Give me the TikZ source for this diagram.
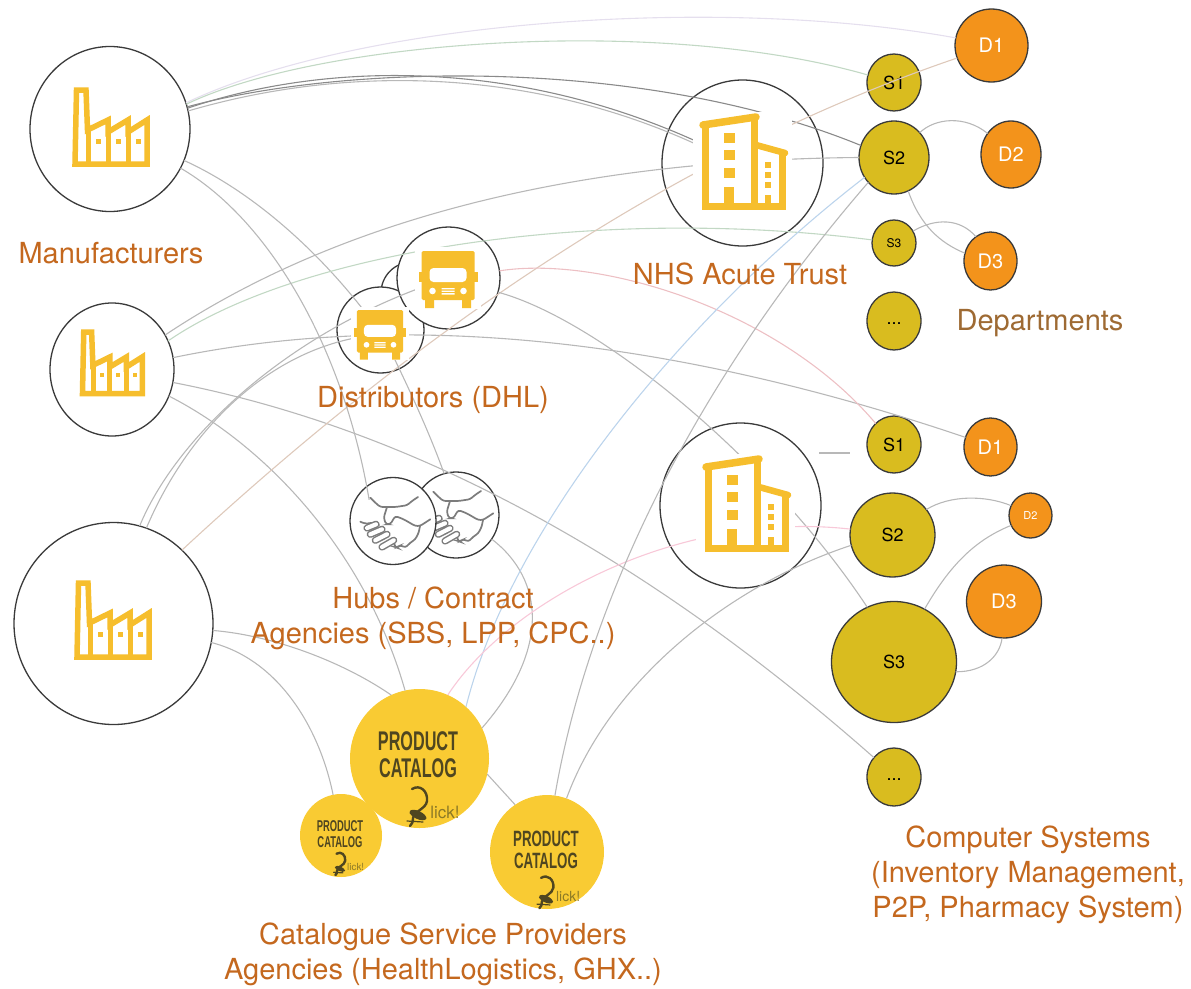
\documentclass[tikz,border=0pt]{standalone}
\usepackage{fontspec}
\usetikzlibrary{shapes.geometric}
\setmainfont{TeX Gyre Heros}
\newfontfamily\catfont[FakeStretch=0.6]{Liberation Sans}
\definecolor{ringline}{HTML}{3A3A3A}
\definecolor{iconyellow}{HTML}{F6BE2D}
\definecolor{sysyellow}{HTML}{D9BC1F}
\definecolor{deptorange}{HTML}{F3931B}
\definecolor{catyellow}{HTML}{F9CB33}
\definecolor{catdark}{HTML}{4F4620}
\definecolor{catfaint}{HTML}{8C7926}
\definecolor{labelbrown}{HTML}{C4681E}
\definecolor{deptbrown}{HTML}{9E6A33}
\definecolor{handgrey}{HTML}{7C7C7C}
\definecolor{linkgrey}{HTML}{B8B8B8}
\definecolor{linkdark}{HTML}{8A8A8A}
\definecolor{linkgreen}{HTML}{C2D8C4}
\definecolor{linklilac}{HTML}{E5DFEE}
\definecolor{linktan}{HTML}{DEC9BB}
\definecolor{linkrose}{HTML}{EDC0C4}
\definecolor{linkpink}{HTML}{F8C8D8}
\definecolor{linkblue}{HTML}{BCD4EC}
\tikzset{
  dims/.style 2 args={minimum width=#1pt,minimum height=#2pt},
  disc/.style={ellipse,inner sep=0pt,outer sep=0pt},
  ring/.style={disc,draw=ringline,fill=white,line width=1.3pt},
  sysnode/.style={disc,draw=ringline,fill=sysyellow,line width=1.3pt,font=\fontsize{18}{18}\selectfont},
  deptnode/.style={disc,draw=ringline,fill=deptorange,line width=1.3pt,text=white,font=\fontsize{20}{20}\selectfont},
  catnode/.style={disc,fill=catyellow},
  link/.style={draw=linkgrey,line width=1.1pt},
  tag/.style={text=labelbrown,align=center,font=\fontsize{29}{35}\selectfont},
  factory/.pic={
    \draw[iconyellow,line width=5.5pt,line join=miter] (3,-3) -- (4.5,-77) -- (14,-77) -- (15.5,-37) -- (36,-47) -- (36,-35) -- (56,-47) -- (56,-35) -- (75,-47) -- (75,-3) -- cycle;
    \draw[iconyellow,line width=5pt] (16,-37) -- (16,-3) (36,-35) -- (36,-3) (56,-35) -- (56,-3);
    \foreach \wx in {26,46,66} \fill[iconyellow] (\wx-2.5,-28) rectangle (\wx+2.5,-23);
  },
  building/.pic={
    \fill[white] (-7,-98) rectangle (92,5);
    \draw[iconyellow,line width=7.5pt,line cap=round] (3,-85) -- (56,-93);
    \draw[iconyellow,line width=6.5pt,line cap=round] (56,-65) -- (85,-57);
    \draw[iconyellow,line width=7pt] (5,-85) -- (5,-3.3) -- (82,-3.3) -- (82,-57);
    \draw[iconyellow,line width=7pt] (54.5,-90) -- (54.5,-3.3);
    \foreach \wy in {-72,-55,-37} \fill[iconyellow] (23.5,\wy-5) rectangle (34.5,\wy+5);
    \foreach \wy in {-45,-35,-25} \fill[iconyellow] (65,\wy-3) rectangle (71,\wy+3);
    \fill[iconyellow] (24,-23) rectangle (34,-2);
    \fill[iconyellow] (65,-15) rectangle (71,-2);
  },
  truck/.pic={
    \fill[white] (-33,-4) rectangle (33,58);
    \fill[iconyellow,rounded corners=1.5pt] (-26.5,0) rectangle (26.5,49);
    \fill[iconyellow] (-29.5,21) rectangle (29.5,31);
    \fill[iconyellow] (-23,48) rectangle (-14,57) (14,48) rectangle (23,57);
    \fill[white,rounded corners=4pt] (-18.5,17) rectangle (18.5,31);
    \fill[white] (-15.5,40) circle (3.3) (15.5,40) circle (3.3);
    \fill[white] (-6.5,37) rectangle (6.5,38.3) (-6.5,39.6) rectangle (6.5,40.9) (-6.5,42.2) rectangle (6.5,43.5);
  },
  handshake/.pic={
    \fill[white] (-33,-21) rectangle (33,21);
    \begin{scope}[handgrey,line width=1.7pt,rounded corners=2.5pt,line cap=round]
      \draw (-22.7,-23.3) -- (-17.7,-18.3) -- (-12.7,-14) -- (2.3,-14) -- (14,-15.7) -- (19,-20) -- (25,-24);
      \draw (-6,-14) -- (-9.3,-3.3) -- (-7,3.3) -- (-2.7,3.3) -- (2.3,-5) -- (10.7,-1.7) -- (22.3,5) -- (27,5) -- (37.3,-1.7);
      \draw (-32.7,0.7) -- (-27.7,2.7) -- (-20,1.7) -- (-14,4);
      \draw (0.7,19.3) -- (2,26) -- (4,26.7) -- (7.3,24) -- (12.3,26.7) -- (17.3,21.7) -- (22.3,18.3) -- (25.7,11.7) -- (27,5);
      \foreach \fa/\fb/\fc/\fd in {-26/7/-17/3.3,-22.7/13.3/-11/8.3,-17.7/19.3/-6/13.3,-11/26/0.7/19.3}
        \draw[double=white,double distance=4.2pt,line width=1.5pt] (\fa,\fb) -- (\fc,\fd);
    \end{scope}
  },
  catmark/.pic={
    \node[transform shape,align=center,text=catdark,font=\catfont\bfseries\fontsize{27}{27}\selectfont] (cattext) at (0,0) {PRODUCT\\CATALOG};
    \node[transform shape,text=catfaint,font=\fontsize{17}{17}\selectfont] (catclick) at (27,57) {lick!};
    \draw[catdark,line width=2.4pt,line cap=round] (-6,34) .. controls (2,29) and (10,36) .. (9,46) .. controls (8,54) and (-4,56) .. (-5,63) .. controls (-5,67) and (-6,69) .. (-8,71);
    \fill[catdark,rotate around={-25:(0,60)}] (0,60) ellipse (9 and 4);
    \draw[catdark,line width=1.2pt,line cap=round] (-8,58) -- (8,63) (-11,66) -- (5,67);
  }
}
\begin{document}
\begin{tikzpicture}[x=1pt,y=-1pt]
      \useasboundingbox (0,0) rectangle (1191,988);
      \node[ring,dims={160}{165}] (M1) at (110,129) {};
      \node[ring,dims={124}{133}] (M2) at (112,369.5) {};
      \node[ring,dims={199}{202}] (M3) at (113.5,623.5) {};
      \node[ring,dims={62}{62}] (T3) at (412,293) {};
      \node[ring,dims={87}{86}] (T2) at (380.5,330) {};
      \node[ring,dims={103}{102}] (T1) at (448.5,278) {};
      \node[ring,dims={86}{86}] (H2) at (456,515) {};
      \node[ring,dims={161}{166}] (NA) at (742.5,163) {};
      \node[ring,dims={161}{165}] (NB) at (740.5,505.5) {};
      \node[catnode,dims={139}{139}] (C1) at (419.5,758.5) {};
      \node[catnode,dims={82}{83}] (C2) at (341,835.5) {};
      \node[catnode,dims={114}{114}] (C3) at (547,852) {};
      \node[sysnode,dims={54}{57}] (S1) at (894,82.5) {S1};
      \node[sysnode,dims={70}{73}] (S2) at (894,157.5) {S2};
      \node[sysnode,dims={44}{46},font=\fontsize{12}{12}\selectfont] (S3) at (894,243) {S3};
      \node[sysnode,dims={54}{58}] (Sdots) at (894,321) {\strut...};
      \node[deptnode,dims={73}{73}] (D1) at (991.5,45.5) {D1};
      \node[deptnode,dims={60}{67}] (D2) at (1011,154.5) {D2};
      \node[deptnode,dims={53}{58}] (D3) at (990.5,261) {D3};
      \node[sysnode,dims={54}{57}] (Sb1) at (894,444.5) {S1};
      \node[sysnode,dims={85}{84}] (Sb2) at (892.5,535) {S2};
      \node[sysnode,dims={125}{121}] (Sb3) at (894,662) {S3};
      \node[sysnode,dims={54}{58}] (Sbdots) at (894,777) {\strut...};
      \node[deptnode,dims={53}{58}] (Db1) at (990.5,447) {D1};
      \node[deptnode,dims={43}{45},font=\fontsize{11}{11}\selectfont] (Db2) at (1030.5,515.5) {D2};
      \node[deptnode,dims={75}{73}] (Db3) at (1004,601.5) {D3};
      \coordinate (naA) at (700,143);
      \coordinate (naB) at (700,146);
      \coordinate (tA) at (420,288);
      \coordinate (tB) at (375,335);
      \coordinate (tC) at (365,312);
      \coordinate (hA) at (370,505);
      \coordinate (sbA) at (819,453);
      \coordinate (sbB) at (850,453);
      \draw[link,draw=linklilac] (M1.19) .. controls (360,20) and (720,-5) .. (D1.168);
      \draw[link,draw=linkgreen] (M1.18) .. controls (320,40) and (660,15) .. (S1.164);
      \draw[link,draw=linkdark] (M1.16) .. controls (340,65) and (640,55) .. (S2.160);
      \draw[link,draw=linkdark] (M1.15) .. controls (330,60) and (520,60) .. (naA);
      \draw[link] (M1.13) .. controls (345,65) and (530,67) .. (naB);
      \draw[link] (M1.-23) .. controls (260,195) and (325,260) .. (tC);
      \draw[link] (M2.33) .. controls (330,225) and (560,160) .. (S2.west);
      \draw[link,draw=linkgreen] (M2.27) .. controls (300,250) and (600,205) .. (S3.172);
      \draw[link] (M2.11) .. controls (330,325) and (590,310) .. (Db1.159);
      \draw[link] (M2.-12) .. controls (408,428) and (641,552) .. (Sbdots.136);
      \draw[link] (M2.-25) .. controls (265,445) and (365,550) .. (C1.102);
      \draw[link] (M3.75) .. controls (175,440) and (280,340) .. (tA);
      \draw[link] (M3.71) .. controls (190,425) and (275,345) .. (tB);
      \draw[link,draw=linktan] (M3.47) .. controls (442,309) and (698,146) .. (D1.200);
      \draw[link] (M3.-4) .. controls (270,635) and (340,660) .. (C1.114);
      \draw[link] (M3.-11) .. controls (280,660) and (320,730) .. (C2.101);
      \draw[link] (T2.center) .. controls (395,360) and (425,420) .. (H2.106);
      \draw[link] (T1.-16) .. controls (600,320) and (770,460) .. (Sb3.116);
      \draw[link,draw=linkrose] (T1.8) .. controls (600,255) and (780,310) .. (Sb1.131);
      \draw[link] (H2.-34) .. controls (545,580) and (550,650) .. (C1.26);
      \draw[link,draw=linkblue] (C1.48) .. controls (510,530) and (680,320) .. (S2.214);
      \draw[link,draw=linkpink] (C1.66) .. controls (510,600) and (680,510) .. (Sb2.172);
      \draw[link] (C1.-13) -- (C3.124);
      \draw[link] (C3.82) .. controls (585,620) and (680,400) .. (S2.224);
      \draw[link] (C3.70) .. controls (610,680) and (730,585) .. (Sb2.194);
      \draw[link] (S2.44) .. controls (935,118) and (965,115) .. (D2.138);
      \draw[link] (S2.-67) .. controls (920,225) and (940,243) .. (D3.163);
      \draw[link] (S3.32) .. controls (935,218) and (960,218) .. (D3.121);
      \draw[link] (Sb2.37) .. controls (950,495) and (985,495) .. (Db2.153);
      \draw[link] (Sb3.60) .. controls (950,565) and (975,540) .. (Db2.207);
      \draw[link] (Sb3.-9) .. controls (985,672) and (1000,655) .. (Db3.267);
      \draw[link] (sbA) -- (sbB);
      \pic at (456,515) {handshake};
      \node[ring,dims={86}{87}] (H1) at (393,521) {};
      \draw[link] (M1.-29) .. controls (270,220) and (345,350) .. (hA);
      \pic at (393,521) {handshake};
      \pic at (72,167) {factory};
      \pic[scale=.83] at (80,396) {factory};
      \pic at (74,660) {factory};
      \pic[scale=.87] at (380,310) {truck};
      \pic at (448,251) {truck};
      \pic at (700,210) {building};
      \pic at (703,552) {building};
      \pic at (418,755) {catmark};
      \pic[scale=.58] at (340,834) {catmark};
      \pic[scale=.82] at (546,850) {catmark};
      \node[tag] (lblM) at (111,253) {Manufacturers};
      \node[tag] (lblT) at (433,400) {Distributors (DHL)};
      \node[tag] (lblH) at (433,618) {Hubs / Contract\\Agencies (SBS, LPP, CPC..)};
      \node[tag] (lblN) at (740,274) {NHS Acute Trust};
      \node[tag,text=deptbrown] (lblD) at (1040,323) {Departments};
      \node[tag] (lblS) at (1028,875) {Computer Systems\\(Inventory Management,\\P2P, Pharmacy System)};
      \node[tag] (lblC) at (443,954) {Catalogue Service Providers\\Agencies (HealthLogistics, GHX..)};
    \end{tikzpicture}
\end{document}
